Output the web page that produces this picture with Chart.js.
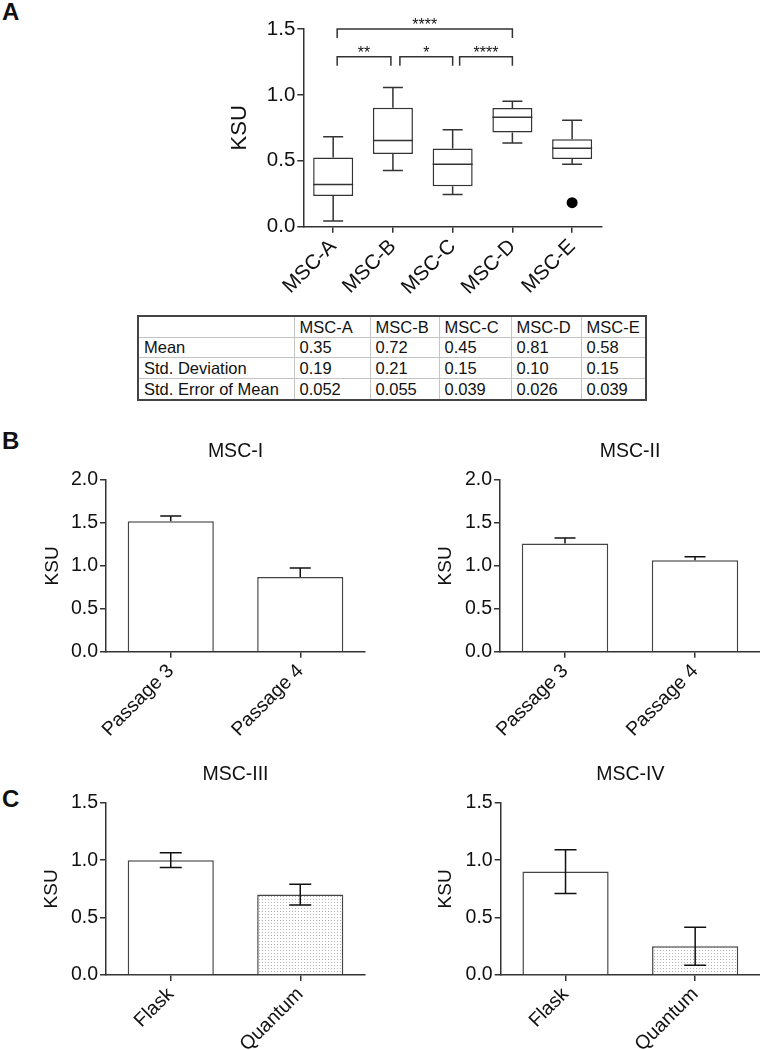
<!DOCTYPE html>
<html>
<head>
<meta charset="utf-8">
<title>KSU per MSC donor</title>
<script src="https://cdn.jsdelivr.net/npm/chart.js@4.4.1/dist/chart.umd.min.js"></script>
<style>
  body { margin: 0; background: #fff; font-family: "Liberation Sans", Arial, sans-serif; color: #111; }
  #page { position: relative; width: 760px; height: 1050px; overflow: hidden; }
  .letter { position: absolute; font-weight: bold; font-size: 24px; line-height: 1; }
  canvas { position: absolute; }
  #stats { position: absolute; left: 137px; top: 315px; border-collapse: collapse; border: 2px solid #444;
           font-size: 16.5px; table-layout: fixed; }
  #stats td { border: 1px solid #c4c4c4; height: 19.7px; padding: 0 0 0 5px; white-space: nowrap; line-height: 1; }
</style>
</head>
<body>
<div id="page">
  <div class="letter" style="left:2px;top:0px">A</div>
  <div class="letter" style="left:2px;top:429px">B</div>
  <div class="letter" style="left:2px;top:787px">C</div>

  <canvas id="chartA" width="420" height="300" style="left:200px;top:0px"></canvas>
  <table id="stats"></table>

  <canvas id="chartB1" width="380" height="320" style="left:0px;top:430px"></canvas>
  <canvas id="chartB2" width="380" height="320" style="left:380px;top:430px"></canvas>
  <canvas id="chartC1" width="380" height="320" style="left:0px;top:730px"></canvas>
  <canvas id="chartC2" width="380" height="320" style="left:380px;top:730px"></canvas>
</div>

<script>
// --- Panel A: box plots (KSU per donor) ---
const boxLabels  = ['MSC-A', 'MSC-B', 'MSC-C', 'MSC-D', 'MSC-E'];
const boxMin     = [0.043, 0.427, 0.245, 0.636, 0.473];
const boxQ1      = [0.233, 0.551, 0.307, 0.715, 0.513];
const boxMedian  = [0.321, 0.654, 0.473, 0.830, 0.596];
const boxQ3      = [0.525, 0.902, 0.594, 0.900, 0.664];
const boxMax     = [0.682, 1.056, 0.735, 0.952, 0.808];
const boxOutlier = [null, null, null, null, 0.182];

// significance brackets (category index pairs)
const sigPairs  = [[0, 1], [1, 2], [2, 3], [0, 3]];
const sigStars  = ['**', '*', '****', '****'];
const sigLevels = [1.29, 1.29, 1.29, 1.5];

// --- table under panel A ---
const statNames = ['Mean', 'Std. Deviation', 'Std. Error of Mean'];
const statMean  = ['0.35', '0.72', '0.45', '0.81', '0.58'];
const statSD    = ['0.19', '0.21', '0.15', '0.10', '0.15'];
const statSEM   = ['0.052', '0.055', '0.039', '0.026', '0.039'];

// --- Panel B: passages ---
const passageLabels = ['Passage 3', 'Passage 4'];
const msc1Values = [1.52, 0.87];
const msc1Errors = [0.06, 0.105];
const msc2Values = [1.26, 1.065];
const msc2Errors = [0.065, 0.042];

// --- Panel C: culture system ---
const cultureLabels = ['Flask', 'Quantum'];
const msc3Values = [1.0, 0.70];
const msc3Errors = [0.065, 0.09];
const msc4Values = [0.90, 0.25];
const msc4Errors = [0.19, 0.165];

const FONT = "'Liberation Sans', Arial, sans-serif";
Chart.defaults.font.family = FONT;
Chart.defaults.color = '#111';
Chart.defaults.animation = false;

// stippled fill for the Quantum bars
function stipple() {
  const c = document.createElement('canvas');
  c.width = 3; c.height = 3;
  const g = c.getContext('2d');
  g.fillStyle = '#fff'; g.fillRect(0, 0, 3, 3);
  g.fillStyle = '#b4b4b4'; g.fillRect(1, 1, 1, 1);
  return g.createPattern(c, 'repeat');
}

// whiskers, medians and significance brackets
const boxPlugin = {
  id: 'boxExtras',
  afterDatasetsDraw(chart) {
    const ctx = chart.ctx, xs = chart.scales.x, ys = chart.scales.y;
    const meta = chart.getDatasetMeta(0);
    ctx.save();
    ctx.strokeStyle = '#333';
    ctx.lineWidth = 1.5;
    meta.data.forEach((bar, i) => {
      const x = bar.x, half = bar.width / 2, cap = 10;
      const yLo = ys.getPixelForValue(boxMin[i]), yHi = ys.getPixelForValue(boxMax[i]);
      const yQ1 = ys.getPixelForValue(boxQ1[i]), yQ3 = ys.getPixelForValue(boxQ3[i]);
      const yMed = ys.getPixelForValue(boxMedian[i]);
      ctx.beginPath();
      ctx.moveTo(x, yQ3); ctx.lineTo(x, yHi);
      ctx.moveTo(x - cap, yHi); ctx.lineTo(x + cap, yHi);
      ctx.moveTo(x, yQ1); ctx.lineTo(x, yLo);
      ctx.moveTo(x - cap, yLo); ctx.lineTo(x + cap, yLo);
      ctx.moveTo(x - half, yMed); ctx.lineTo(x + half, yMed);
      ctx.stroke();
    });

    ctx.fillStyle = '#111';
    ctx.font = '16px ' + FONT;
    ctx.textAlign = 'center';
    ctx.textBaseline = 'alphabetic';
    sigPairs.forEach((p, i) => {
      const x1 = xs.getPixelForValue(p[0]) + (p[0] === 0 ? 4 : 7);
      const x2 = xs.getPixelForValue(p[1]) - (p[1] === 1 ? 2 : 0);
      const yb = ys.getPixelForValue(sigLevels[i]);
      ctx.beginPath();
      ctx.moveTo(x1, yb + 9); ctx.lineTo(x1, yb);
      ctx.lineTo(x2, yb); ctx.lineTo(x2, yb + 9);
      ctx.stroke();
      ctx.fillText(sigStars[i], (x1 + x2) / 2, yb + 1);
    });
    ctx.restore();
  }
};

// error bars for the bar panels
const errorPlugin = {
  id: 'errorBars',
  afterDatasetsDraw(chart, args, opts) {
    if (!opts || !opts.errors) return;
    const ctx = chart.ctx, ys = chart.scales.y;
    const meta = chart.getDatasetMeta(0);
    const values = chart.data.datasets[0].data;
    ctx.save();
    ctx.strokeStyle = '#111';
    ctx.lineWidth = 1.5;
    meta.data.forEach((bar, i) => {
      const x = bar.x, cap = opts.cap;
      const yTop = ys.getPixelForValue(values[i] + opts.errors[i]);
      const yBot = ys.getPixelForValue(opts.both ? values[i] - opts.errors[i] : values[i]);
      ctx.beginPath();
      ctx.moveTo(x, yBot); ctx.lineTo(x, yTop);
      ctx.moveTo(x - cap, yTop); ctx.lineTo(x + cap, yTop);
      if (opts.both) { ctx.moveTo(x - cap, yBot); ctx.lineTo(x + cap, yBot); }
      ctx.stroke();
    });
    ctx.restore();
  }
};

function axisX(fontSize, height) {
  return {
    offset: true,
    grid: { offset: false, drawOnChartArea: false, drawTicks: true, tickLength: 6, color: '#333', lineWidth: 1.5 },
    border: { display: true, color: '#333', width: 1.5 },
    ticks: { font: { size: fontSize }, color: '#111', minRotation: 45, maxRotation: 45, autoSkip: false, padding: 2 },
    afterFit(scale) { scale.height = height; }
  };
}

function axisY(max, fontSize, titleSize, titlePad, width) {
  return {
    min: 0, max: max,
    grid: { drawOnChartArea: false, drawTicks: true, tickLength: 6, color: '#333', lineWidth: 1.5 },
    border: { display: true, color: '#333', width: 1.5 },
    ticks: { stepSize: 0.5, font: { size: fontSize }, color: '#111', padding: 2,
             callback: v => Number(v).toFixed(1) },
    title: { display: true, text: 'KSU', font: { size: titleSize }, color: '#111', padding: { top: titlePad, bottom: 0 } },
    afterFit(scale) { scale.width = width; }
  };
}

// Panel A chart
new Chart(document.getElementById('chartA'), {
  type: 'bar',
  data: {
    labels: boxLabels,
    datasets: [
      {
        data: boxQ1.map((q, i) => [q, boxQ3[i]]),
        backgroundColor: '#fff',
        borderColor: '#333',
        borderWidth: 1.5,
        borderSkipped: false,
        barPercentage: 0.67,
        categoryPercentage: 1
      },
      {
        type: 'line',
        data: boxOutlier,
        showLine: false,
        pointRadius: 5.5,
        pointBackgroundColor: '#000',
        pointBorderWidth: 0
      }
    ]
  },
  options: {
    responsive: false,
    layout: { padding: { top: 29, right: 18, left: 0, bottom: 0 } },
    plugins: { legend: { display: false }, tooltip: { enabled: false } },
    scales: {
      x: axisX(20.5, 73.3),
      y: axisY(1.5, 20.5, 22, 26.8, 103.3)
    }
  },
  plugins: [boxPlugin]
});

// table
(function buildTable() {
  const table = document.getElementById('stats');
  const widths = [156, 76, 69, 72, 70, 65];
  const cg = document.createElement('colgroup');
  widths.forEach(w => { const c = document.createElement('col'); c.style.width = w + 'px'; cg.appendChild(c); });
  table.appendChild(cg);
  const rows = [[''].concat(boxLabels), [statNames[0]].concat(statMean),
                [statNames[1]].concat(statSD), [statNames[2]].concat(statSEM)];
  rows.forEach(r => {
    const tr = document.createElement('tr');
    r.forEach(t => { const td = document.createElement('td'); td.textContent = t; tr.appendChild(td); });
    table.appendChild(tr);
  });
})();

// Panels B and C
function barChart(id, title, labels, values, errors, opt) {
  const fill = opt.stippled ? ['#fff', stipple()] : '#fff';
  new Chart(document.getElementById(id), {
    type: 'bar',
    data: {
      labels: labels,
      datasets: [{
        data: values,
        backgroundColor: fill,
        borderColor: '#444',
        borderWidth: 1.5,
        barPercentage: 0.665,
        categoryPercentage: 1
      }]
    },
    options: {
      responsive: false,
      layout: { padding: { top: 0, right: opt.padRight, left: 0, bottom: 0 } },
      plugins: {
        legend: { display: false },
        tooltip: { enabled: false },
        title: { display: true, text: title, fullSize: false, color: '#111',
                 font: { size: 19.5, weight: 'normal' }, padding: { top: opt.titleTop, bottom: opt.titleBottom } },
        errorBars: { errors: errors, both: opt.both, cap: opt.cap }
      },
      scales: {
        x: axisX(19.5, opt.xHeight),
        y: axisY(opt.yMax, 19.5, 19, opt.ksuPad, opt.yWidth)
      }
    },
    plugins: [errorPlugin]
  });
}

barChart('chartB1', 'MSC-I', passageLabels, msc1Values, msc1Errors,
  { yMax: 2, both: false, cap: 10.5, padRight: 15, titleTop: 10, titleBottom: 16.6, xHeight: 98.3, yWidth: 106, ksuPad: 41.1 });
barChart('chartB2', 'MSC-II', passageLabels, msc2Values, msc2Errors,
  { yMax: 2, both: false, cap: 10.5, padRight: 0, titleTop: 10, titleBottom: 16.6, xHeight: 98.3, yWidth: 120, ksuPad: 54.4 });
barChart('chartC1', 'MSC-III', cultureLabels, msc3Values, msc3Errors,
  { yMax: 1.5, both: true, cap: 11, stippled: true, padRight: 15, titleTop: 33.3, titleBottom: 16, xHeight: 75, yWidth: 106, ksuPad: 40.3 });
barChart('chartC2', 'MSC-IV', cultureLabels, msc4Values, msc4Errors,
  { yMax: 1.5, both: true, cap: 11, stippled: true, padRight: 0, titleTop: 33.3, titleBottom: 16, xHeight: 75, yWidth: 120.7, ksuPad: 54.3 });
</script>
</body>
</html>
